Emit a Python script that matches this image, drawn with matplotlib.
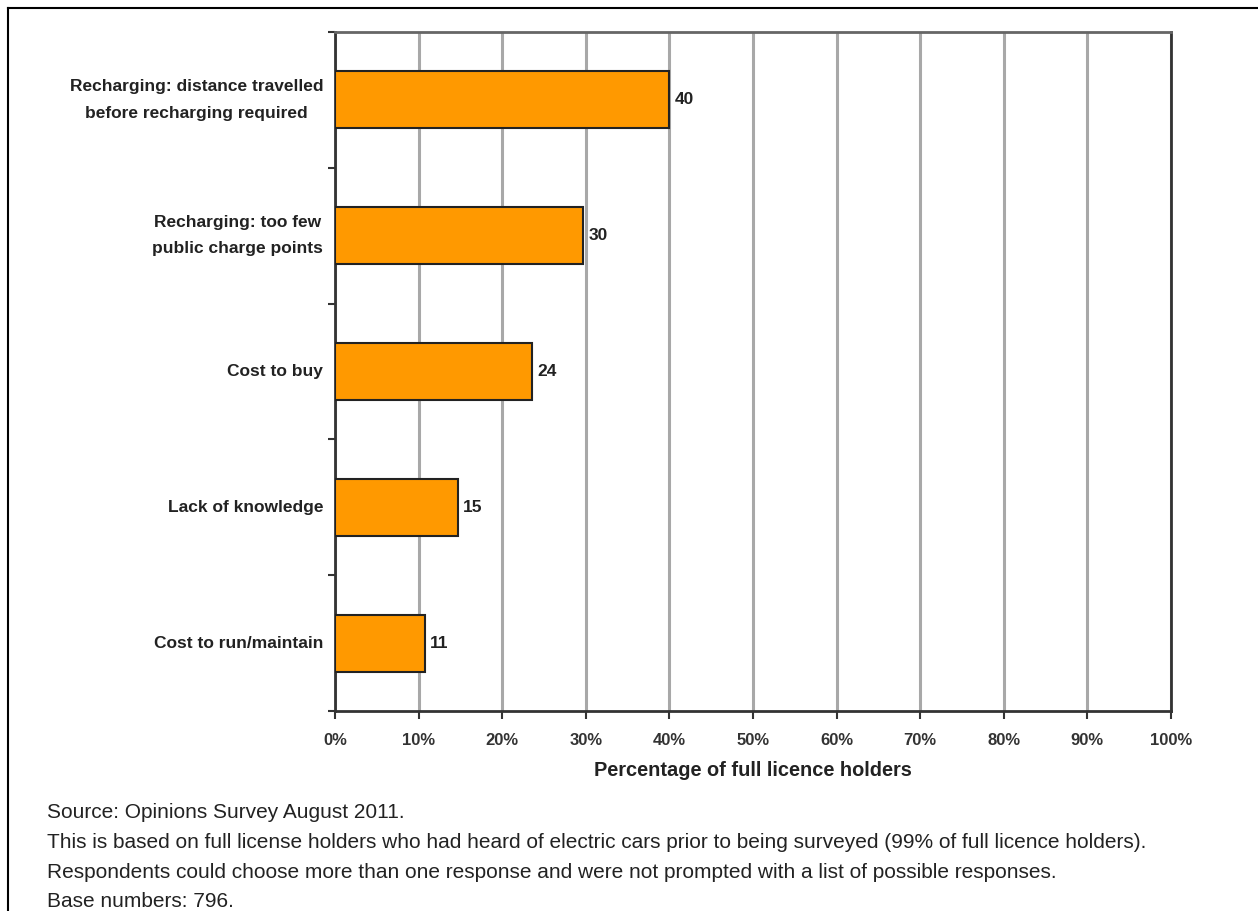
import matplotlib.pyplot as plt
from matplotlib.lines import Line2D

categories = [
    'Recharging: distance travelled\nbefore recharging required',
    'Recharging: too few\npublic charge points',
    'Cost to buy',
    'Lack of knowledge',
    'Cost to run/maintain',
]
values = [40, 29.7, 23.6, 14.7, 10.8]
value_labels = ['40', '30', '24', '15', '11']
x_ticks = list(range(0, 101, 10))
x_ticklabels = ['%d%%' % t for t in x_ticks]
notes = [
    'Source: Opinions Survey August 2011.',
    'This is based on full license holders who had heard of electric cars prior to being surveyed (99% of full licence holders).',
    'Respondents could choose more than one response and were not prompted with a list of possible responses.',
    'Base numbers: 796.',
]

plt.rcParams['font.family'] = ['Liberation Sans', 'DejaVu Sans']

fig = plt.figure(figsize=(12.58, 9.11), dpi=100)
ax = fig.add_axes([0.2663, 0.2195, 0.6645, 0.7454])

pos = list(range(len(categories)))
ax.barh(pos, values, height=0.42, color='#FF9900', edgecolor='#222222', linewidth=1.5, zorder=3)
for p, v, lab in zip(pos, values, value_labels):
    ax.text(v + 0.6, p, lab, va='center', ha='left', fontsize=12.5, fontweight='bold', color='#222222')

ax.set_xlim(0, 100)
ax.set_ylim(len(categories) - 0.5, -0.5)
ax.set_xticks(x_ticks)
ax.set_xticklabels(x_ticklabels, fontsize=12, fontweight='bold', color='#333333')
ax.xaxis.grid(True, color='#a8a8a8', linewidth=2.2, zorder=0)
ax.set_axisbelow(True)

# category labels placed in the middle, tick marks on category boundaries
ax.set_yticks([p - 0.5 for p in pos] + [len(pos) - 0.5])
ax.set_yticklabels([])
for p, c in zip(pos, categories):
    ax.text(-1.4, p, c, ha='right', va='center', multialignment='center', fontsize=12.5,
            fontweight='bold', color='#222222', linespacing=1.95)

ax.tick_params(axis='y', length=5, width=1.5, color='#333333')
ax.tick_params(axis='x', length=6, width=1.5, color='#333333', pad=10)
for side in ['left', 'bottom', 'right']:
    ax.spines[side].set_color('#333333')
    ax.spines[side].set_linewidth(2)
ax.spines['top'].set_color('#666666')
ax.spines['top'].set_linewidth(2)

ax.set_xlabel('Percentage of full licence holders', fontsize=14.4, fontweight='bold',
              color='#222222', labelpad=9)

for i, line in enumerate(notes):
    fig.text(47 / 1258, 1 - (813 + i * 29.5) / 911, line, fontsize=15,
             color='#222222', va='center', ha='left')

# outer frame (top and left edges visible)
fig.add_artist(Line2D([8 / 1258, 8 / 1258], [0, 1 - 8 / 911], transform=fig.transFigure, color='black', linewidth=1.5))
fig.add_artist(Line2D([8 / 1258, 1], [1 - 8 / 911, 1 - 8 / 911], transform=fig.transFigure, color='black', linewidth=1.5))

fig.savefig('out.png', dpi=100)
